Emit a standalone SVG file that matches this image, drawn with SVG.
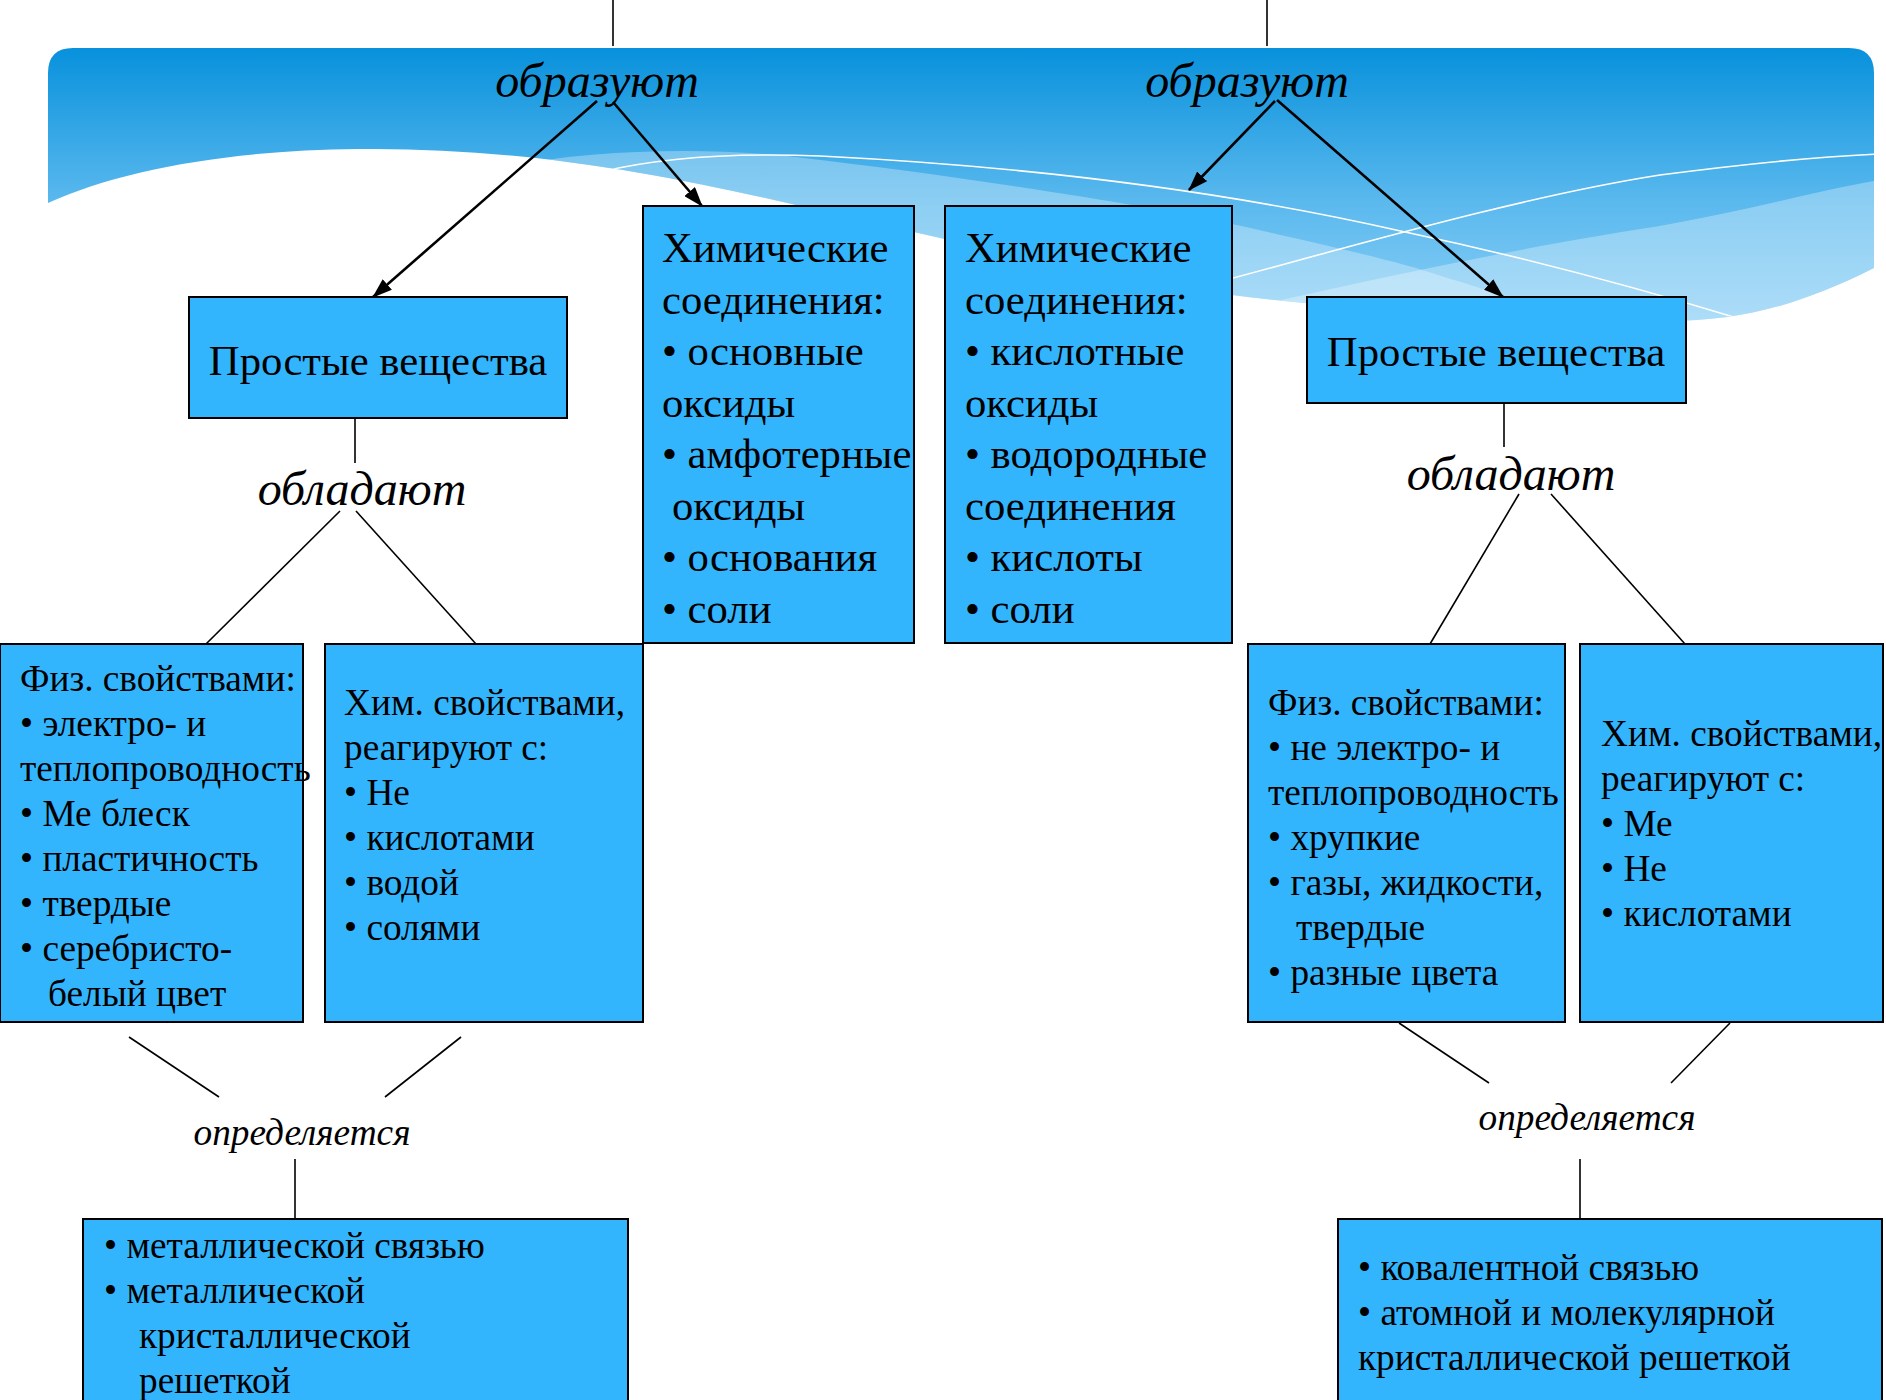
<svg xmlns="http://www.w3.org/2000/svg" width="1886" height="1400" viewBox="0 0 1886 1400">
<style>
.box{fill:#33b5fe;stroke:#000;stroke-width:2}
.t{font-family:"Liberation Serif","Times New Roman",serif;fill:#000}
.l{font-size:42.7px}
.s{font-size:37.3px}
.i{font-style:italic}
.ln{stroke:#000;stroke-width:1.6;fill:none}
.ar{stroke:#000;stroke-width:2.6;fill:none;marker-end:url(#ah)}
.wl{stroke:#fff;stroke-width:1.6;fill:none}
.ov{fill:#fff;fill-opacity:0.3}
</style>
<defs>
<linearGradient id="bg" gradientUnits="userSpaceOnUse" x1="0" y1="48" x2="0" y2="330">
<stop offset="0" stop-color="#0891dc"/>
<stop offset="0.55" stop-color="#5bb9ee"/>
<stop offset="1" stop-color="#8dd0f6"/>
</linearGradient>
<clipPath id="bc">
<path d="M48,203 L48,73 Q48,48 73,48 L1849,48 Q1874,48 1874,73 L1874,268 C1800,305 1740,322 1660,321 C1500,318 1350,310 1232,295 C1000,260 800,200 640,173 C540,156 450,148 359,149 C230,150 120,170 48,203 Z"/>
</clipPath>
<marker id="ah" viewBox="0 0 20 14" refX="19" refY="7" markerWidth="20" markerHeight="14" orient="auto" markerUnits="userSpaceOnUse">
<path d="M0,0 L20,7 L0,14 Z" fill="#000"/>
</marker>
</defs>
<rect x="0" y="0" width="1886" height="1400" fill="#fff"/>
<g id="banner">
<path d="M48,203 L48,73 Q48,48 73,48 L1849,48 Q1874,48 1874,73 L1874,268 C1800,305 1740,322 1660,321 C1500,318 1350,310 1232,295 C1000,260 800,200 640,173 C540,156 450,148 359,149 C230,150 120,170 48,203 Z" fill="url(#bg)"/>
<g clip-path="url(#bc)">
<path class="ov" d="M470,175 C560,150 700,145 804,158 C950,175 1150,205 1246,227 C1330,246 1400,262 1438,275 C1520,300 1580,320 1620,340 L1620,420 L470,420 Z"/>
<path class="ov" d="M1150,330 C1300,295 1500,250 1654,227 C1750,210 1820,190 1880,180 L1880,420 L1150,420 Z"/>
<path class="wl" d="M600,172 C650,160 720,152 820,156 C1000,165 1200,185 1405,232 C1500,252 1620,282 1760,325"/>
<path class="wl" d="M1150,300 C1300,262 1500,200 1660,175 C1760,162 1830,156 1880,154"/>
</g>
</g>
<g id="connectors">
<line class="ln" x1="613" y1="0" x2="613" y2="46"/>
<line class="ln" x1="1267" y1="0" x2="1267" y2="46"/>
<line class="ar" x1="597" y1="101" x2="373" y2="297"/>
<line class="ar" x1="613" y1="102" x2="702" y2="206"/>
<line class="ar" x1="1275" y1="101" x2="1189" y2="190"/>
<line class="ar" x1="1277" y1="100" x2="1503" y2="297"/>
<line class="ln" x1="355" y1="418" x2="355" y2="463"/>
<line class="ln" x1="340" y1="511" x2="206" y2="644"/>
<line class="ln" x1="356" y1="511" x2="476" y2="644"/>
<line class="ln" x1="1504" y1="403" x2="1504" y2="447"/>
<line class="ln" x1="1519" y1="494" x2="1430" y2="644"/>
<line class="ln" x1="1551" y1="494" x2="1685" y2="644"/>
<line class="ln" x1="129" y1="1037" x2="219" y2="1097"/>
<line class="ln" x1="461" y1="1037" x2="385" y2="1097"/>
<line class="ln" x1="295" y1="1159" x2="295" y2="1219"/>
<line class="ln" x1="1399" y1="1023" x2="1489" y2="1083"/>
<line class="ln" x1="1730" y1="1023" x2="1671" y2="1083"/>
<line class="ln" x1="1580" y1="1159" x2="1580" y2="1219"/>
</g>
<g id="label-obrazuyut-1"><text class="t i" x="597" y="97" font-size="48" text-anchor="middle">образуют</text></g>
<g id="label-obrazuyut-2"><text class="t i" x="1247" y="97" font-size="48" text-anchor="middle">образуют</text></g>
<g id="label-obladayut-1"><text class="t i" x="362" y="505" font-size="48" text-anchor="middle">обладают</text></g>
<g id="label-obladayut-2"><text class="t i" x="1511" y="490" font-size="48" text-anchor="middle">обладают</text></g>
<g id="label-opredelyaetsya-1"><text class="t i" x="302" y="1145" font-size="37.3" text-anchor="middle">определяется</text></g>
<g id="label-opredelyaetsya-2"><text class="t i" x="1587" y="1130" font-size="37.3" text-anchor="middle">определяется</text></g>
<g id="simple-left">
<rect class="box" x="189" y="297" width="378" height="121"/>
<text class="t l" x="378" y="375" text-anchor="middle">Простые вещества</text>
</g>
<g id="compounds-left">
<rect class="box" x="643" y="206" width="271" height="437"/>
<text class="t l">
<tspan x="662" y="262">Химические</tspan>
<tspan x="662" y="314">соединения:</tspan>
<tspan x="662" y="365">• основные</tspan>
<tspan x="662" y="417">оксиды</tspan>
<tspan x="662" y="468">• амфотерные</tspan>
<tspan x="672" y="520">оксиды</tspan>
<tspan x="662" y="571">• основания</tspan>
<tspan x="662" y="623">• соли</tspan>
</text>
</g>
<g id="compounds-right">
<rect class="box" x="945" y="206" width="287" height="437"/>
<text class="t l">
<tspan x="965" y="262">Химические</tspan>
<tspan x="965" y="314">соединения:</tspan>
<tspan x="965" y="365">• кислотные</tspan>
<tspan x="965" y="417">оксиды</tspan>
<tspan x="965" y="468">• водородные</tspan>
<tspan x="965" y="520">соединения</tspan>
<tspan x="965" y="571">• кислоты</tspan>
<tspan x="965" y="623">• соли</tspan>
</text>
</g>
<g id="simple-right">
<rect class="box" x="1307" y="297" width="379" height="106"/>
<text class="t l" x="1496" y="366" text-anchor="middle">Простые вещества</text>
</g>
<g id="phys-left">
<rect class="box" x="0" y="644" width="303" height="378"/>
<text class="t s">
<tspan x="20" y="691">Физ. свойствами:</tspan>
<tspan x="20" y="736">• электро- и</tspan>
<tspan x="20" y="781">теплопроводность</tspan>
<tspan x="20" y="826">• Ме блеск</tspan>
<tspan x="20" y="871">• пластичность</tspan>
<tspan x="20" y="916">• твердые</tspan>
<tspan x="20" y="961">• серебристо-</tspan>
<tspan x="48" y="1006">белый цвет</tspan>
</text>
</g>
<g id="chem-left">
<rect class="box" x="325" y="644" width="318" height="378"/>
<text class="t s">
<tspan x="344" y="715">Хим. свойствами,</tspan>
<tspan x="344" y="760">реагируют с:</tspan>
<tspan x="344" y="805">• Не</tspan>
<tspan x="344" y="850">• кислотами</tspan>
<tspan x="344" y="895">• водой</tspan>
<tspan x="344" y="940">• солями</tspan>
</text>
</g>
<g id="phys-right">
<rect class="box" x="1248" y="644" width="317" height="378"/>
<text class="t s">
<tspan x="1268" y="715">Физ. свойствами:</tspan>
<tspan x="1268" y="760">• не электро- и</tspan>
<tspan x="1268" y="805">теплопроводность</tspan>
<tspan x="1268" y="850">• хрупкие</tspan>
<tspan x="1268" y="895">• газы, жидкости,</tspan>
<tspan x="1296" y="940">твердые</tspan>
<tspan x="1268" y="985">• разные цвета</tspan>
</text>
</g>
<g id="chem-right">
<rect class="box" x="1580" y="644" width="303" height="378"/>
<text class="t s">
<tspan x="1601" y="746">Хим. свойствами,</tspan>
<tspan x="1601" y="791">реагируют с:</tspan>
<tspan x="1601" y="836">• Ме</tspan>
<tspan x="1601" y="881">• Не</tspan>
<tspan x="1601" y="926">• кислотами</tspan>
</text>
</g>
<g id="bond-left">
<rect class="box" x="83" y="1219" width="545" height="200"/>
<text class="t s">
<tspan x="104" y="1258">• металлической связью</tspan>
<tspan x="104" y="1303">• металлической</tspan>
<tspan x="139" y="1348">кристаллической</tspan>
<tspan x="139" y="1393">решеткой</tspan>
</text>
</g>
<g id="bond-right">
<rect class="box" x="1338" y="1219" width="544" height="200"/>
<text class="t s">
<tspan x="1358" y="1280">• ковалентной связью</tspan>
<tspan x="1358" y="1325">• атомной и молекулярной</tspan>
<tspan x="1358" y="1370">кристаллической решеткой</tspan>
</text>
</g>
</svg>
